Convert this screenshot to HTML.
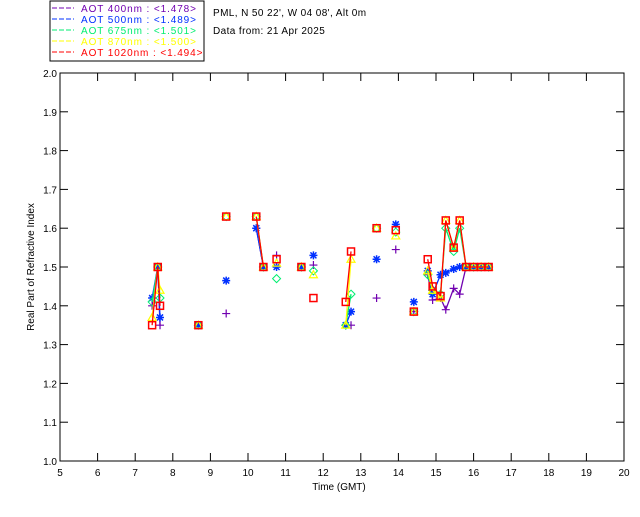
<!DOCTYPE html>
<html><head><meta charset="utf-8"><style>
body{margin:0;background:#fff;width:640px;height:512px;overflow:hidden}
svg text{font-family:"Liberation Sans",sans-serif;font-size:10px}
</style></head><body>
<svg id="c" width="640" height="512" xmlns="http://www.w3.org/2000/svg">
<rect x="50" y="1" width="154" height="60" fill="#fff" stroke="#000"/>
<g id="legend"></g>
<text x="213" y="16" fill="#000" style="letter-spacing:0.4px">PML, N 50 22', W 04 08', Alt 0m</text>
<text x="213" y="34" fill="#000" style="letter-spacing:0.4px">Data from: 21 Apr 2025</text>
<g id="axes"></g>
<text x="339" y="490" text-anchor="middle">Time (GMT)</text>
<text transform="translate(34,267) rotate(-90)" text-anchor="middle">Real Part of Refractive Index</text>
<g id="plot"></g>
</svg>
<script>
const times=[7.45,7.6,7.66,8.68,9.42,10.22,10.41,10.76,11.42,11.74,12.6,12.74,13.42,13.93,14.41,14.78,14.91,15.12,15.26,15.47,15.63,15.8,16.0,16.2,16.4];
const v400=[1.40,1.50,1.35,1.35,1.38,1.60,1.50,1.53,1.50,1.505,1.35,1.35,1.42,1.545,1.385,1.48,1.415,1.42,1.39,1.445,1.43,1.50,1.50,1.50,1.50];
const v500=[1.42,1.50,1.37,1.35,1.465,1.60,1.50,1.50,1.50,1.53,1.35,1.385,1.52,1.61,1.41,1.49,1.43,1.48,1.485,1.495,1.50,1.50,1.50,1.50,1.50];
const v675=[1.41,1.50,1.42,1.35,1.63,1.63,1.50,1.47,1.50,1.49,1.35,1.43,1.60,1.59,1.385,1.48,1.44,1.43,1.60,1.54,1.60,1.50,1.50,1.50,1.50];
const v870=[1.37,1.50,1.44,1.35,1.63,1.63,1.50,1.51,1.50,1.48,1.35,1.52,1.60,1.58,1.385,1.49,1.44,1.42,1.62,1.55,1.62,1.50,1.50,1.50,1.50];
const v1020=[1.35,1.50,1.40,1.35,1.63,1.63,1.50,1.52,1.50,1.42,1.41,1.54,1.60,1.595,1.385,1.52,1.45,1.425,1.62,1.55,1.62,1.50,1.50,1.50,1.50];
const legendLabels=["AOT  400nm : <1.478>","AOT  500nm : <1.489>","AOT  675nm : <1.501>","AOT  870nm : <1.500>","AOT 1020nm : <1.494>"];
const xTicks=[5,6,7,8,9,10,11,12,13,14,15,16,17,18,19,20];
const yTicks=[1.0,1.1,1.2,1.3,1.4,1.5,1.6,1.7,1.8,1.9,2.0];
const NS="http://www.w3.org/2000/svg";
const X0=60,X1=624,Y0=461,Y1=73;
const xs=t=>X0+(t-5)/15*(X1-X0);
const ys=v=>Y0-(v-1)*(Y0-Y1);
function mk(tag,attrs,parent){const e=document.createElementNS(NS,tag);for(const k in attrs)e.setAttribute(k,attrs[k]);parent.appendChild(e);return e;}
const axes=document.getElementById('axes'),plot=document.getElementById('plot'),leg=document.getElementById('legend');
const frame=mk('rect',{x:X0,y:Y1,width:X1-X0,height:Y0-Y1,fill:'none',stroke:'#000'},axes);


xTicks.forEach(t=>{
 const a=mk('line',{x1:xs(t),x2:xs(t),y1:Y0,y2:Y0-8,stroke:'#000'},axes);
 
 
 const b=mk('line',{x1:xs(t),x2:xs(t),y1:Y1,y2:Y1+8,stroke:'#000'},axes);
 
 
 const l=mk('text',{x:xs(t),y:Y0+15,'text-anchor':'middle'},axes);l.textContent=t;
 
 
});
yTicks.forEach(v=>{
 const a=mk('line',{x1:X0,x2:X0+8,y1:ys(v),y2:ys(v),stroke:'#000'},axes);
 
 
 const b=mk('line',{x1:X1,x2:X1-8,y1:ys(v),y2:ys(v),stroke:'#000'},axes);
 
 
 const l=mk('text',{x:X0-3,y:ys(v)+4,'text-anchor':'end'},axes);l.textContent=v.toFixed(1);
 
 
});
const series=[v400,v500,v675,v870,v1020];
const colors=['#7000b0','#0030ff','#00ee70','#ffff00','#ff0000'];
const names=['aot-400','aot-500','aot-675','aot-870','aot-1020'];
series.forEach((vals,si)=>{
 const c=colors[si];
 for(let i=1;i<times.length;i++){
  if(times[i]-times[i-1]<0.3){
   const ln=mk('line',{x1:xs(times[i-1]),y1:ys(vals[i-1]),x2:xs(times[i]),y2:ys(vals[i]),stroke:c,'stroke-width':1.3},plot);
   
   
  }
 }
 times.forEach((t,i)=>{
  const x=xs(t),y=ys(vals[i]);let m;
  if(si===0)m=mk('path',{d:`M${x-4},${y}H${x+4}M${x},${y-4}V${y+4}`,stroke:c,'stroke-width':1.2,fill:'none'},plot);
  else if(si===1)m=mk('path',{d:`M${x-4},${y}H${x+4}M${x},${y-4}V${y+4}M${x-3},${y-3}L${x+3},${y+3}M${x-3},${y+3}L${x+3},${y-3}`,stroke:c,'stroke-width':1.5,fill:'none'},plot);
  else if(si===2)m=mk('path',{d:`M${x},${y-4}L${x+4},${y}L${x},${y+4}L${x-4},${y}Z`,stroke:c,'stroke-width':1,fill:'none'},plot);
  else if(si===3)m=mk('path',{d:`M${x},${y-4}L${x+4},${y+3}L${x-4},${y+3}Z`,stroke:c,'stroke-width':1.2,fill:'none'},plot);
  else m=mk('rect',{x:x-3.5,y:y-3.5,width:7,height:7,stroke:c,'stroke-width':1.5,fill:'none'},plot);
  
  
 });
 const ly=11+si*11;
 const ll=mk('line',{x1:52,x2:74,y1:ly-3,y2:ly-3,stroke:c,'stroke-dasharray':'5,2'},leg);
 
 
 const lt=mk('text',{x:81,y:ly+1,fill:c,'xml:space':'preserve',style:'letter-spacing:0.9px'},leg);
 lt.textContent=legendLabels[si];
 
 
});
</script>
</body></html>
